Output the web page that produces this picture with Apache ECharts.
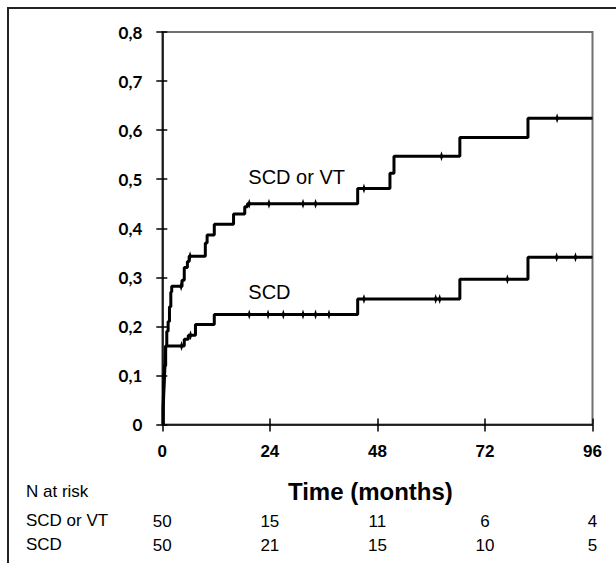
<!DOCTYPE html>
<html>
<head>
<meta charset="utf-8">
<script src="https://cdn.jsdelivr.net/npm/echarts@6/dist/echarts.min.js"></script>
<style>
html,body{margin:0;padding:0;background:#fff;}
#chart{width:616px;height:566px;}
</style>
</head>
<body>
<div id="chart"></div>
<script>
// ---- data ----
const xTicks = [0, 24, 48, 72, 96];
const yTicks = [0, 0.1, 0.2, 0.3, 0.4, 0.5, 0.6, 0.7, 0.8];

// SCD or VT cumulative incidence steps (time in months, value)
const vtTimes  = [0, 0.2, 0.35, 0.5, 0.75, 1.0, 1.3, 1.6, 1.9, 2.1, 4.4, 4.9, 5.6, 6.0, 9.6, 10.0, 11.6, 15.9, 18.4, 19.0, 43.6, 50.8, 51.7, 66.4, 81.6, 96];
const vtValues = [0, 0.04, 0.09, 0.12, 0.16, 0.19, 0.21, 0.24, 0.27, 0.282, 0.294, 0.32, 0.332, 0.343, 0.37, 0.386, 0.408, 0.429, 0.4436, 0.45, 0.481, 0.512, 0.547, 0.585, 0.624, 0.624];
const vtCensorTimes  = [4.2, 6.2, 19.4, 23.8, 31.4, 34.2, 45.0, 62.3, 88.1];
const vtCensorValues = [0.282, 0.343, 0.45, 0.45, 0.45, 0.45, 0.481, 0.547, 0.624];

// SCD cumulative incidence steps
const scdTimes  = [0, 0.2, 0.35, 0.5, 0.65, 0.75, 4.9, 5.8, 7.4, 11.6, 43.6, 66.4, 81.6, 96];
const scdValues = [0, 0.03, 0.07, 0.10, 0.13, 0.16, 0.174, 0.182, 0.204, 0.224, 0.256, 0.296, 0.341, 0.341];
const scdCensorTimes  = [4.3, 6.3, 19.4, 23.6, 27.0, 31.4, 34.2, 37.2, 45.0, 61.0, 61.9, 77.0, 88.0, 92.2];
const scdCensorValues = [0.16, 0.182, 0.224, 0.224, 0.224, 0.224, 0.224, 0.224, 0.256, 0.256, 0.256, 0.296, 0.341, 0.341];

// numbers at risk
const atRiskTimes = [0, 24, 48, 72, 96];
const atRiskVT  = [50, 15, 11, 6, 4];
const atRiskSCD = [50, 21, 15, 10, 5];

// curve labels (time, value, text)
const curveLabels = [
  { t: 19.2, v: 0.5045, text: 'SCD or VT' },
  { t: 19.2, v: 0.270, text: 'SCD' }
];

// ---- chart ----
const zip = (a, b) => a.map((x, i) => [x, b[i]]);
const censorSymbol = 'path://M2,0 L3,3.5 L4,5 L3,6.5 L2,10 L1,6.5 L0,5 L1,3.5 Z';
const chart = echarts.init(document.getElementById('chart'), null, { renderer: 'svg' });

const baseX = { type: 'value', min: 0, max: 96, interval: 24, gridIndex: 0, splitLine: { show: false } };
const baseY = { type: 'value', min: 0, max: 0.8, interval: 0.1, gridIndex: 0, splitLine: { show: false } };

chart.setOption({
  animation: false,
  backgroundColor: '#fff',
  grid: { left: 162.3, right: 23.5, top: 32, bottom: 141.5, show: true, borderColor: '#707070', borderWidth: 2, backgroundColor: 'transparent' },
  xAxis: [
    Object.assign({}, baseX, {
      position: 'bottom',
      axisLine: { show: true, onZero: false, lineStyle: { color: '#000', width: 1.5 } },
      axisTick: { show: true, length: 7, lineStyle: { color: '#000', width: 1.5 } },
      axisLabel: { show: true, margin: 18, color: '#000', fontFamily: 'Liberation Sans', fontWeight: 'bold', fontSize: 17 },
      name: 'Time (months)', nameLocation: 'middle', nameGap: 55,
      nameTextStyle: { color: '#000', fontFamily: 'Liberation Sans', fontWeight: 'bold', fontSize: 24, padding: [0, 14, 0, 0] }
    }),
    Object.assign({}, baseX, {
      position: 'bottom',
      axisLine: { show: false, onZero: false },
      axisTick: { show: true, inside: true, length: 6, lineStyle: { color: '#000', width: 1.5 } },
      axisLabel: { show: false }
    }),
    Object.assign({}, baseX, {
      position: 'bottom', offset: 80,
      axisLine: { show: false, onZero: false }, axisTick: { show: false },
      axisLabel: { show: true, margin: 8, color: '#000', fontFamily: 'Liberation Sans', fontSize: 17,
        formatter: v => { const i = atRiskTimes.indexOf(v); return i >= 0 ? String(atRiskVT[i]) : ''; } }
    }),
    Object.assign({}, baseX, {
      position: 'bottom', offset: 104,
      axisLine: { show: false, onZero: false }, axisTick: { show: false },
      axisLabel: { show: true, margin: 8, color: '#000', fontFamily: 'Liberation Sans', fontSize: 17,
        formatter: v => { const i = atRiskTimes.indexOf(v); return i >= 0 ? String(atRiskSCD[i]) : ''; } }
    })
  ],
  yAxis: [
    Object.assign({}, baseY, {
      position: 'left',
      axisLine: { show: true, onZero: false, lineStyle: { color: '#000', width: 1.5 } },
      axisTick: { show: true, length: 6, lineStyle: { color: '#000', width: 1.5 } },
      axisLabel: { show: true, margin: 20, color: '#000', fontFamily: 'Lato', fontWeight: 'bold', fontSize: 17,
        formatter: v => v === 0 ? '0' : v.toFixed(1).replace('.', ',') }
    }),
    Object.assign({}, baseY, {
      position: 'left',
      axisLine: { show: false, onZero: false },
      axisTick: { show: true, inside: true, length: 5, lineStyle: { color: '#000', width: 1.5 } },
      axisLabel: { show: false }
    })
  ],
  graphic: [
    { type: 'polyline', shape: { points: [[8, 563], [8, 8], [620, 8]] }, style: { stroke: '#222', lineWidth: 2, fill: null }, z: 10 },
    { type: 'text', left: 26, top: 483, style: { text: 'N at risk', fill: '#000', font: '17px "Liberation Sans"' } },
    { type: 'text', left: 26, top: 512, style: { text: 'SCD or VT', fill: '#000', font: '17px "Liberation Sans"' } },
    { type: 'text', left: 26, top: 536, style: { text: 'SCD', fill: '#000', font: '17px "Liberation Sans"' } }
  ],
  series: [
    { name: 'SCD or VT', type: 'line', step: 'end', xAxisIndex: 0, yAxisIndex: 0, symbol: 'none',
      lineStyle: { color: '#000', width: 3 }, data: zip(vtTimes, vtValues), z: 3 },
    { name: 'SCD', type: 'line', step: 'end', xAxisIndex: 0, yAxisIndex: 0, symbol: 'none',
      lineStyle: { color: '#000', width: 3 }, data: zip(scdTimes, scdValues), z: 3 },
    { name: 'censor VT', type: 'scatter', xAxisIndex: 0, yAxisIndex: 0, symbol: censorSymbol, symbolSize: [4.5, 10],
      itemStyle: { color: '#000', opacity: 1 }, data: zip(vtCensorTimes, vtCensorValues), z: 4 },
    { name: 'censor SCD', type: 'scatter', xAxisIndex: 0, yAxisIndex: 0, symbol: censorSymbol, symbolSize: [4.5, 10],
      itemStyle: { color: '#000', opacity: 1 }, data: zip(scdCensorTimes, scdCensorValues), z: 4 },
    { name: 'labels', type: 'scatter', xAxisIndex: 0, yAxisIndex: 0, symbolSize: 0, silent: true,
      itemStyle: { color: '#000', opacity: 1 },
      label: { show: true, position: 'right', distance: 0, color: '#000', fontFamily: 'Liberation Sans', fontSize: 20,
        formatter: p => p.data.text },
      data: curveLabels.map(d => ({ value: [d.t, d.v], text: d.text })) }
  ]
});
</script>
</body>
</html>
